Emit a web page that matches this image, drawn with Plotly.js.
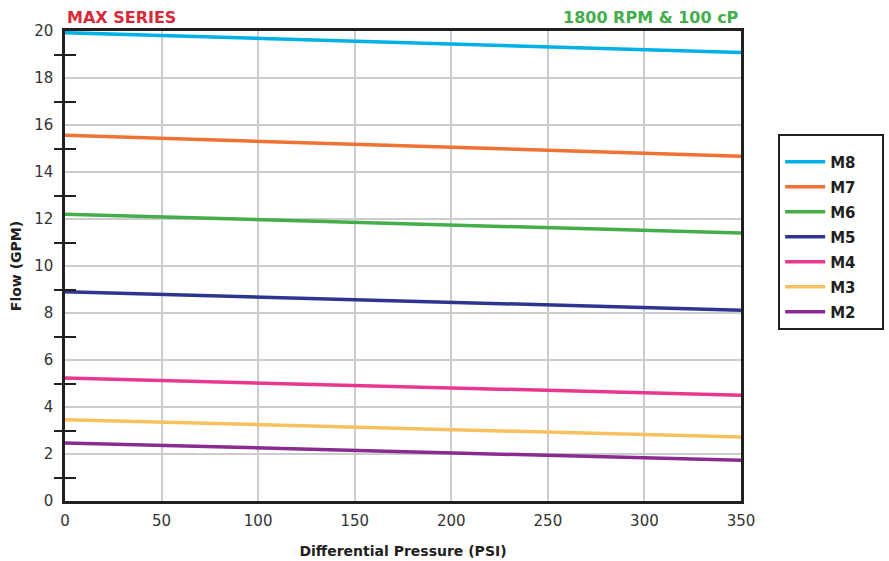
<!DOCTYPE html>
<html>
<head>
<meta charset="utf-8">
<script src="https://cdn.plot.ly/plotly-3.0.1.min.js"></script>
<style>html,body{margin:0;padding:0;background:#fff;}#chart{width:889px;height:561px;}</style>
</head>
<body>
<div id="chart"></div>
<script>
// Data
const pressure = [0, 350];
const seriesNames = ["M8", "M7", "M6", "M5", "M4", "M3", "M2"];
const flowM8 = [19.93, 19.08];
const flowM7 = [15.56, 14.67];
const flowM6 = [12.2, 11.4];
const flowM5 = [8.9, 8.12];
const flowM4 = [5.23, 4.5];
const flowM3 = [3.46, 2.72];
const flowM2 = [2.47, 1.73];
const seriesColors = ["#00b1e7", "#f07235", "#43ae4a", "#2d3590", "#e8388e", "#f8c15e", "#8a2b8f"];
const xTicks = [0, 50, 100, 150, 200, 250, 300, 350];
const yTicks = [0, 2, 4, 6, 8, 10, 12, 14, 16, 18, 20];
const yMinorTicks = [1, 3, 5, 7, 9, 11, 13, 15, 17, 19];

const flows = [flowM8, flowM7, flowM6, flowM5, flowM4, flowM3, flowM2];
const dark = "#231f20";
const tickFont = {family: "DejaVu Sans", size: 15, color: "#333"};

const traces = seriesNames.map((name, i) => ({
  x: pressure, y: flows[i], name: name, mode: "lines", type: "scatter",
  legendgroup: name,
  line: {color: seriesColors[i], width: 3.5}
}));
traces.push({x: [], y: [], yaxis: "y2", showlegend: false, hoverinfo: "skip", type: "scatter"});

const layout = {
  width: 889, height: 561,
  margin: {l: 65, r: 148, t: 31, b: 60, autoexpand: false},
  paper_bgcolor: "#fff", plot_bgcolor: "#fff",
  showlegend: true,
  xaxis: {
    range: [0, 350], tickvals: xTicks, ticktext: xTicks.map(String),
    showgrid: true, gridcolor: "#cccccc", gridwidth: 1.5,
    showline: true, linecolor: dark, linewidth: 2.5, mirror: true,
    ticks: "", tickfont: tickFont, zeroline: false, ticklabelstandoff: 4,
    title: {text: "Differential Pressure (PSI)", font: {family: "DejaVu Sans", size: 14, color: dark, weight: "bold"}, standoff: 18}
  },
  yaxis: {
    range: [0, 20], tickvals: yTicks, ticktext: yTicks.map(String),
    showgrid: true, gridcolor: "#cccccc", gridwidth: 1.5,
    showline: true, linecolor: dark, linewidth: 2.5, mirror: true,
    ticks: "", tickfont: tickFont, zeroline: false, ticklabelstandoff: 6,
    minor: {tickvals: yMinorTicks, ticks: "outside", ticklen: 8, tickwidth: 2, tickcolor: dark, showgrid: false},
    title: {text: "Flow (GPM)", font: {family: "DejaVu Sans", size: 14, color: dark, weight: "bold"}, standoff: 10}
  },
  yaxis2: {
    overlaying: "y", side: "left", range: [0, 20], tickvals: yMinorTicks,
    ticks: "inside", ticklen: 11, tickwidth: 2, tickcolor: dark,
    showticklabels: false, showgrid: false, zeroline: false, showline: false
  },
  legend: {
    x: 1.055, xanchor: "left", y: 0.78, yanchor: "top",
    bordercolor: dark, borderwidth: 2, bgcolor: "#fff",
    font: {family: "DejaVu Sans", size: 15, color: dark, weight: "bold"},
    title: {text: "&nbsp;".repeat(40), font: {family: "DejaVu Sans", size: 7}},
    tracegroupgap: 2.5, itemwidth: 40
  },
  annotations: [
    {xref: "paper", yref: "paper", x: 0, y: 1, xanchor: "left", yanchor: "bottom", yshift: 2,
     text: "<b>MAX SERIES</b>", showarrow: false, font: {family: "DejaVu Sans", size: 16, color: "#d42a3a"}},
    {xref: "paper", yref: "paper", x: 1, y: 1, xanchor: "right", yanchor: "bottom", yshift: 2,
     text: "<b>1800 RPM &amp; 100 cP</b>", showarrow: false, font: {family: "DejaVu Sans", size: 16, color: "#45ad4c"}}
  ]
};

Plotly.newPlot("chart", traces, layout, {displayModeBar: false});
</script>
</body>
</html>
